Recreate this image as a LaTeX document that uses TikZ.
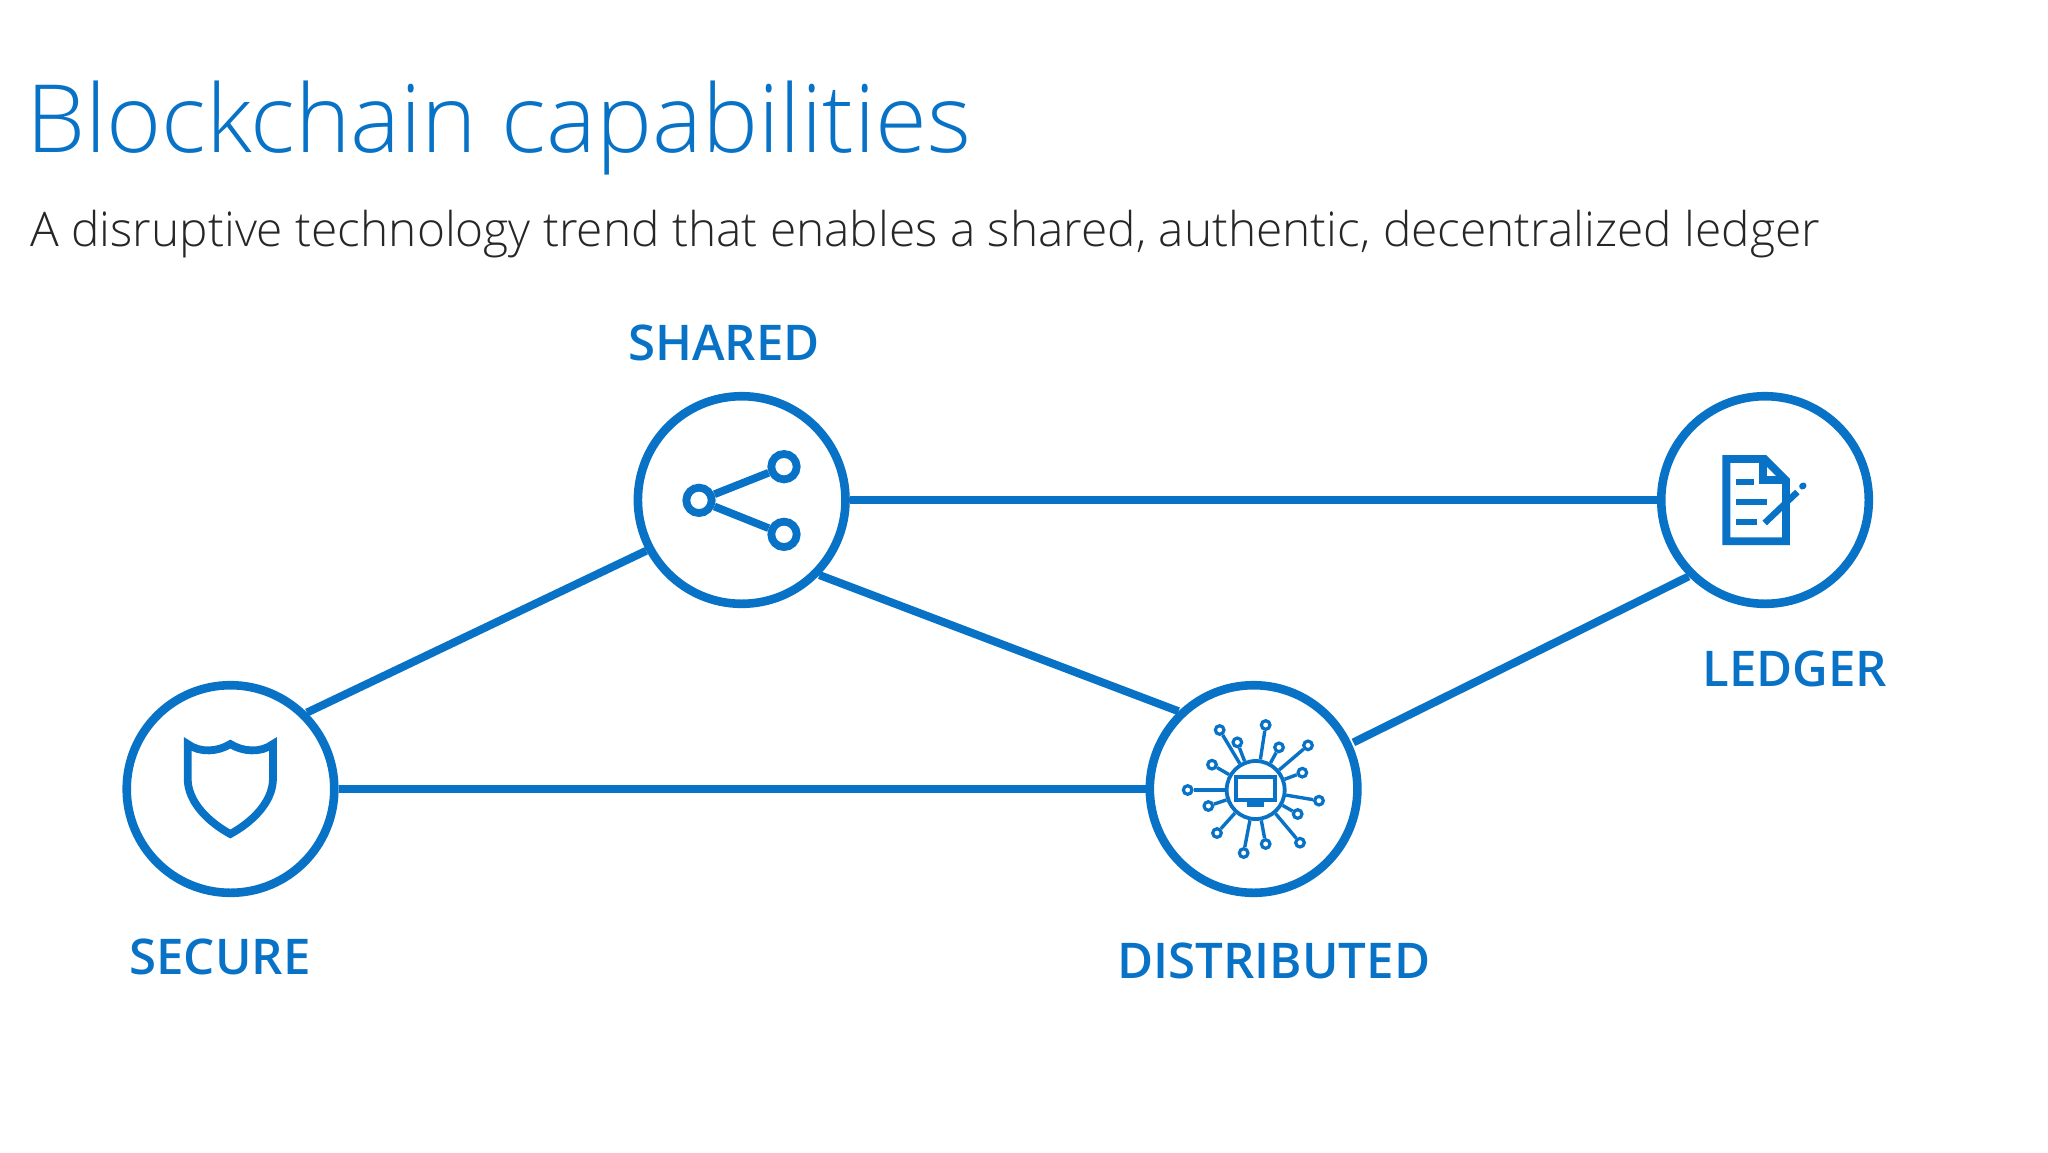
\documentclass[tikz,border=0pt]{standalone}
\usepackage{fontspec}
\setmainfont{Open Sans}
\newfontfamily\lightfont{Open Sans Light}
\newfontfamily\labelfont{Open Sans Semibold}
\definecolor{capblue}{HTML}{0872C6}
\definecolor{subgray}{HTML}{262626}
\tikzset{
	ring/.style={circle, draw=capblue, fill=white, line width=4.3pt, minimum size=103.8pt, inner sep=0pt},
	link/.style={draw=capblue, line width=4pt},
	caplabel/.style={anchor=base west, inner sep=0pt, text=capblue, font=\labelfont\fontsize{24.6}{28}\selectfont},
	heading/.style={anchor=base west, inner sep=0pt, text=capblue, font=\lightfont\fontsize{47.1}{56}\selectfont},
	subheading/.style={anchor=base west, inner sep=0pt, text=subgray, font=\lightfont\fontsize{23.9}{30}\selectfont},
	iconline/.style={draw=capblue, line width=3.9pt},
	sharedot/.style={circle, draw=capblue, line width=3.9pt, minimum size=12.7pt, inner sep=0pt},
	hub/.style={circle, draw=capblue, line width=1.9pt, minimum size=29pt, inner sep=0pt},
	hubtip/.style={circle, draw=capblue, line width=1.6pt, minimum size=4.3pt, inner sep=0pt},
	spoke/.style={draw=capblue, line width=1.7pt},
}
\begin{document}
\begin{tikzpicture}[x=0.5pt, y=-0.5pt]
	\useasboundingbox (0,0) rectangle (2048,1152);
	% the title lines
	\node[heading] (title) at (26,152) {Blockchain capabilities};
	\node[subheading] (subtitle) at (30,246) {A disruptive technology trend that enables a shared, authentic, decentralized ledger};
	% the circles
	\node[ring] (shared) at (741.7,500) {};
	\node[ring] (ledger) at (1765,500) {};
	\node[ring] (secure) at (230.5,789) {};
	\node[ring] (distributed) at (1253.6,789) {};
	% the connectors
	\draw[link] (shared.east) -- (ledger.west);
	\draw[link] (secure.east) -- (distributed.west);
	\draw[link] (secure.45) -- (shared.208);
	\draw[link] (shared.-44) -- (distributed.134);
	\draw[link, shorten <=1pt] (distributed.25) -- (ledger.225);
	% the labels
	\node[caplabel] (sharedlabel) at (628,360) {SHARED};
	\node[caplabel] (ledgerlabel) at (1702,686) {LEDGER};
	\node[caplabel] (securelabel) at (129,974.5) {SECURE};
	\node[caplabel] (distributedlabel) at (1117,978.5) {DISTRIBUTED};
	% the share icon
	\begin{scope}[shift={(620,380)}, scale=1/3]
		\node[sharedot] (dota) at (237,361) {};
		\node[sharedot] (dotb) at (492,260) {};
		\node[sharedot] (dotc) at (492,463) {};
		\draw[iconline] (dota) -- (dotb);
		\draw[iconline] (dota) -- (dotc);
	\end{scope}
	% the document icon
	\begin{scope}[shift={(1640,380)}, scale=1/3]
		\draw[iconline, miter limit=4] (259,237) -- (374,237) -- (438,301) -- (438,484) -- (259,484) -- cycle;
		\draw[iconline] (370,237) -- (370,301) -- (438,301);
		\fill[capblue] (289,296) rectangle (341,316);
		\fill[capblue] (289,356) rectangle (381,376);
		\fill[capblue] (289,416) rectangle (351,436);
		\draw[iconline, line width=3.2pt] (374,429) -- (472,336);
		\draw[capblue, line width=3.2pt, line cap=round] (487,319) -- (490,317);
	\end{scope}
	% the shield icon
	\begin{scope}[shift={(110,670)}, scale=1/3]
		\draw[iconline] (233,222) .. controls (270,250) and (325,245) .. (361,222) .. controls (397,245) and (452,250) .. (489,222) -- (489,325) .. controls (489,400) and (420,460) .. (361,492) .. controls (302,460) and (233,400) .. (233,325) -- cycle;
	\end{scope}
	% the network icon
	\begin{scope}[shift={(1120,670)}, scale=1/3]
		\node[hub] (hubnode) at (407,360) {};
		\foreach \i/\tx/\ty in {1/299/180, 2/352/217, 3/437/165, 4/477/232, 5/564/226, 6/547/308, 7/597/392, 8/533/432, 9/540/518, 10/437/522, 11/371/549, 12/291/489, 13/265/408, 14/203/360, 15/276/284}
		{
			\node[hubtip] (tip\i) at (\tx,\ty) {};
			\draw[spoke] (hubnode) -- (tip\i);
		}
		\draw[capblue, line width=1.9pt] (348,320) rectangle (465,391);
		\fill[capblue] (382,397) rectangle (432,410);
	\end{scope}
\end{tikzpicture}
\end{document}
